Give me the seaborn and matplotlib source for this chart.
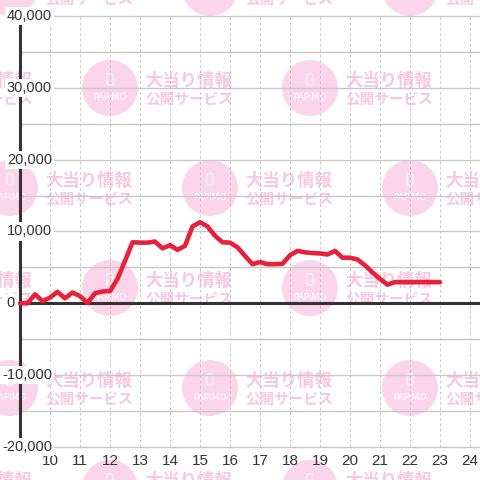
import matplotlib
matplotlib.use("Agg")
import matplotlib.pyplot as plt
import matplotlib.transforms as mtransforms
from matplotlib.patches import Circle, FancyBboxPatch
import pandas as pd
import seaborn as sns

# data (time of day -> balance)
times = ["9:00", "9:15", "9:30", "9:45", "10:00", "10:15", "10:30", "10:45",
         "11:00", "11:15", "11:30", "11:45", "12:00", "12:15", "12:30", "12:45",
         "13:00", "13:15", "13:30", "13:45", "14:00", "14:15", "14:30", "14:45",
         "15:00", "15:15", "15:30", "15:45", "16:00", "16:15", "16:30", "16:45",
         "17:00", "17:15", "17:30", "17:45", "18:00", "18:15", "18:30", "18:45",
         "19:00", "19:15", "19:30", "19:45", "20:00", "20:15", "20:30", "20:45",
         "21:00", "21:15", "21:30", "21:45", "22:00", "22:15", "22:30", "22:45",
         "23:00"]
values = [0, 0, 1250, 300, 800, 1600, 700, 1500,
          1000, 50, 1400, 1650, 1700, 3400, 5900, 8500,
          8450, 8450, 8600, 7650, 8100, 7450, 8000, 10700,
          11300, 10700, 9400, 8500, 8450, 7800, 6600, 5450,
          5750, 5450, 5450, 5500, 6700, 7300, 7100, 7000,
          6950, 6800, 7300, 6350, 6350, 6100, 5300, 4300,
          3400, 2600, 2950, 2950, 2950, 2950, 2950, 2950,
          2950]
x_ticks = list(range(10, 25))
y_labels = [-20000, -10000, 0, 10000, 20000, 30000, 40000]
y_grid = [-20000, -15000, -10000, -5000, 5000, 10000, 15000, 20000,
          25000, 30000, 35000, 40000]


def to_hour(t):
    h, m = t.split(":")
    return int(h) + int(m) / 60


df = pd.DataFrame({"hour": [to_hour(t) for t in times], "value": values})

sns.set_style("white")
plt.rcParams["font.family"] = ["Liberation Sans", "DejaVu Sans"]

fig = plt.figure(figsize=(4.8, 4.8), dpi=100)
fig.patch.set_facecolor("white")

# watermark layer (pixel coords)
bg = fig.add_axes([0, 0, 1, 1], zorder=0)
bg.set_xlim(0, 480)
bg.set_ylim(480, 0)
bg.axis("off")
pink = "#fbd5ea"
pink_txt = "#f7c8e0"
jp = ["Noto Sans CJK JP", "DejaVu Sans"]
for r, cy in enumerate(range(-12, 560, 100)):
    start = -190 if r % 2 == 0 else -90
    for cx in range(start, 560, 200):
        bg.add_patch(Circle((cx, cy), 28, facecolor=pink, edgecolor="none"))
        bg.add_patch(FancyBboxPatch((cx - 3, cy - 14), 6, 11,
                                    boxstyle="round,pad=0,rounding_size=1.2",
                                    fc="none", ec="white", lw=0.7))
        bg.text(cx, cy + 10, "PAPiMO", color="white", fontsize=6.5,
                ha="center", va="center", family=["DejaVu Sans"])
        bg.text(cx + 35, cy - 7.5, "大当り情報", color=pink_txt, fontsize=12.5,
                fontweight="bold", ha="left", va="center", family=jp)
        bg.text(cx + 35, cy + 11, "公開サービス", color=pink_txt, fontsize=10.5,
                fontweight="bold", ha="left", va="center", family=jp)

# main chart
ax = fig.add_axes([20 / 480, 33 / 480, 460 / 480, 431 / 480], zorder=1)
ax.set_facecolor("none")
ax.set_xlim(9, 9 + 460 / 30)
ax.set_ylim(-20000, 40000)

for v in y_grid:
    ax.axhline(v, color="#c8c8c8", lw=1, zorder=1, clip_on=False)
for h in x_ticks:
    ax.axvline(h, color="#c4c4c4", lw=0.7, ls=(0, (2.5, 3)), zorder=1)
ax.axhline(0, color="#333333", lw=2.2, zorder=2)

sns.lineplot(data=df, x="hour", y="value", color="#e8213a", lw=3.3, ax=ax, zorder=4)
line = ax.lines[-1]
line.set_solid_joinstyle("round")
line.set_solid_capstyle("round")
line.set_clip_on(False)

ax.set_xlabel("")
ax.set_ylabel("")
ax.set_xticks(x_ticks)
ax.set_xticklabels([str(h) for h in x_ticks])
ax.set_yticks([])
ax.tick_params(axis="x", length=0, pad=5, labelsize=11, labelcolor="#333333")

for s in ["top", "right", "bottom"]:
    ax.spines[s].set_visible(False)
ax.spines["left"].set_color("#333333")
ax.spines["left"].set_linewidth(2.2)

trans = mtransforms.blended_transform_factory(fig.transFigure, ax.transData)
for v in y_labels:
    x_px = 15 if v == 0 else 52
    ax.text(x_px / 480, v, f"{v:,}", transform=trans, ha="right", va="center",
            fontsize=10.5, color="#333333", zorder=5, clip_on=False,
            bbox=dict(fc="white", ec="none", pad=1.5))

fig.savefig("out.png", dpi=100)
